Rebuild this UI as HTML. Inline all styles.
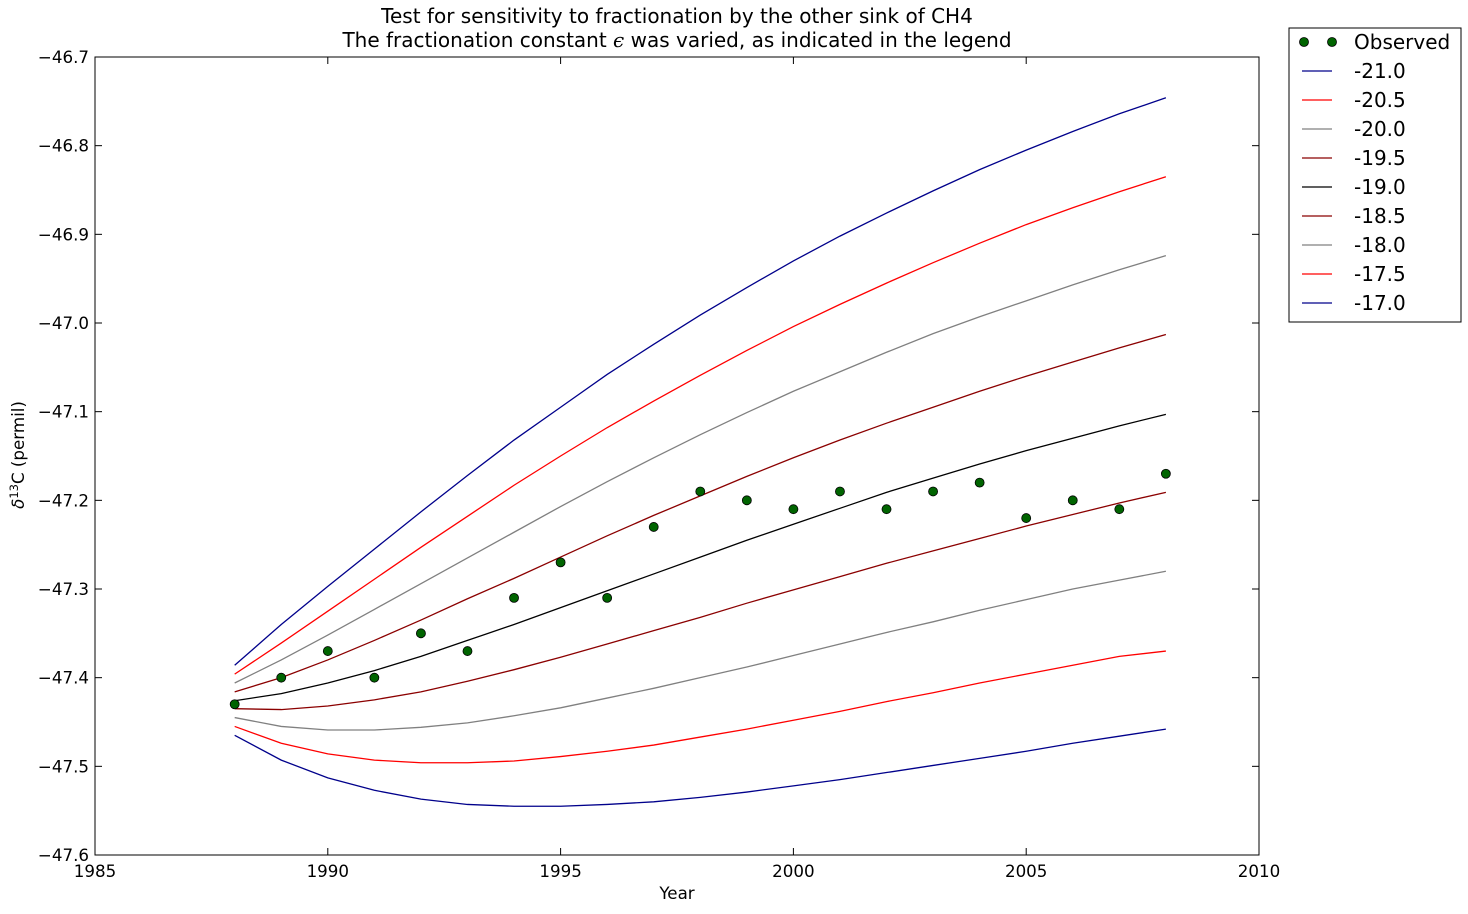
<!DOCTYPE html>
<html><head><meta charset="utf-8"><style>
body{margin:0;background:#fff;}
svg{display:block;font-family:"DejaVu Sans","Liberation Sans",sans-serif;}
</style></head><body>
<svg id="chart" width="1468" height="914">
<g id="plot"></g>
</svg>
<script>
const years=[1988,1989,1990,1991,1992,1993,1994,1995,1996,1997,1998,1999,2000,2001,2002,2003,2004,2005,2006,2007,2008];
const observed=[-47.43,-47.40,-47.37,-47.40,-47.35,-47.37,-47.31,-47.27,-47.31,-47.23,-47.19,-47.20,-47.21,-47.19,-47.21,-47.19,-47.18,-47.22,-47.20,-47.21,-47.17];
const seriesLabels=["-21.0","-20.5","-20.0","-19.5","-19.0","-18.5","-18.0","-17.5","-17.0"];
const seriesColors=["#00008b","#ff0000","#808080","#8b0000","#000000","#8b0000","#808080","#ff0000","#00008b"];
const s210=[-47.386,-47.34,-47.297,-47.255,-47.213,-47.172,-47.132,-47.095,-47.058,-47.024,-46.991,-46.96,-46.93,-46.902,-46.876,-46.851,-46.827,-46.805,-46.784,-46.764,-46.746];
const s205=[-47.396,-47.361,-47.325,-47.289,-47.253,-47.218,-47.183,-47.150,-47.118,-47.088,-47.059,-47.031,-47.004,-46.979,-46.955,-46.932,-46.91,-46.889,-46.87,-46.852,-46.835];
const s200=[-47.406,-47.38,-47.352,-47.323,-47.294,-47.265,-47.236,-47.207,-47.179,-47.152,-47.126,-47.101,-47.077,-47.055,-47.033,-47.012,-46.993,-46.975,-46.957,-46.94,-46.924];
const s195=[-47.416,-47.40,-47.38,-47.358,-47.335,-47.311,-47.288,-47.264,-47.24,-47.217,-47.195,-47.173,-47.152,-47.132,-47.113,-47.095,-47.077,-47.06,-47.044,-47.028,-47.013];
const s190=[-47.426,-47.418,-47.406,-47.392,-47.376,-47.358,-47.34,-47.321,-47.302,-47.283,-47.264,-47.245,-47.227,-47.209,-47.191,-47.175,-47.159,-47.144,-47.13,-47.116,-47.103];
const s185=[-47.435,-47.436,-47.432,-47.425,-47.416,-47.404,-47.391,-47.377,-47.362,-47.347,-47.332,-47.316,-47.301,-47.286,-47.271,-47.257,-47.243,-47.229,-47.216,-47.203,-47.191];
const s180=[-47.445,-47.455,-47.459,-47.459,-47.456,-47.451,-47.443,-47.434,-47.423,-47.412,-47.4,-47.388,-47.375,-47.362,-47.349,-47.337,-47.324,-47.312,-47.3,-47.29,-47.28];
const s175=[-47.455,-47.474,-47.486,-47.493,-47.496,-47.496,-47.494,-47.489,-47.483,-47.476,-47.467,-47.458,-47.448,-47.438,-47.427,-47.417,-47.406,-47.396,-47.386,-47.376,-47.37];
const s170=[-47.465,-47.493,-47.513,-47.527,-47.537,-47.543,-47.545,-47.545,-47.543,-47.540,-47.535,-47.529,-47.522,-47.515,-47.507,-47.499,-47.491,-47.483,-47.474,-47.466,-47.458];
const xTicks=[1985,1990,1995,2000,2005,2010];
const yTicks=[-46.7,-46.8,-46.9,-47.0,-47.1,-47.2,-47.3,-47.4,-47.5,-47.6];

const series=[s210,s205,s200,s195,s190,s185,s180,s175,s170];
const L=95,R=1259,T=57,B=855;
const xMin=1985,xMax=2010,yMin=-47.6,yMax=-46.7;
const X=v=>L+(v-xMin)/(xMax-xMin)*(R-L);
const Y=v=>B-(v-yMin)/(yMax-yMin)*(B-T);
const NS="http://www.w3.org/2000/svg";
const svg=document.getElementById('chart');
function mk(tag,attrs,parent){const e=document.createElementNS(NS,tag);for(const k in attrs)e.setAttribute(k,attrs[k]);(parent||svg).appendChild(e);return e;}

series.forEach((s,i)=>{
  const p=mk('polyline',{points:s.map((v,j)=>X(years[j])+','+Y(v)).join(' '),fill:'none',stroke:seriesColors[i],'stroke-width':1.3});
  
  
});
observed.forEach((v,j)=>{
  const c=mk('circle',{cx:X(years[j]),cy:Y(v),r:4.5,fill:'#006400',stroke:'#000','stroke-width':0.8});
  
  
});
const frame=mk('rect',{x:L,y:T,width:R-L,height:B-T,fill:'none',stroke:'#000','stroke-width':1});


xTicks.forEach(t=>{
  mk('line',{x1:X(t),x2:X(t),y1:B,y2:B-7,stroke:'#000'});
  mk('line',{x1:X(t),x2:X(t),y1:T,y2:T+7,stroke:'#000'});
  const tx=mk('text',{x:X(t),y:B+22,'text-anchor':'middle','font-size':16.7});
  tx.textContent=t;
  
  
});
yTicks.forEach(t=>{
  mk('line',{x1:L,x2:L+7,y1:Y(t),y2:Y(t),stroke:'#000'});
  mk('line',{x1:R,x2:R-7,y1:Y(t),y2:Y(t),stroke:'#000'});
  const tx=mk('text',{x:L-6,y:Y(t)+6,'text-anchor':'end','font-size':16.7});
  tx.textContent=t.toFixed(1).replace('-','\u2212');
  
  
});
// legend
const lg=mk('rect',{x:1289,y:28,width:172,height:294,fill:'#fff',stroke:'#000'});


mk('circle',{cx:1304,cy:42,r:4.5,fill:'#006400',stroke:'#000','stroke-width':0.8});
mk('circle',{cx:1332,cy:42,r:4.5,fill:'#006400',stroke:'#000','stroke-width':0.8});
let t0=mk('text',{x:1354,y:49,'font-size':20});t0.textContent='Observed';


seriesLabels.forEach((lab,i)=>{
  const y=71+i*29;
  mk('line',{x1:1302,x2:1332,y1:y,y2:y,stroke:seriesColors[i],'stroke-width':1.3});
  const tx=mk('text',{x:1354,y:y+7,'font-size':20});tx.textContent=lab;
  
  
});
</script>
<svg style="position:absolute;left:0;top:0" width="1468" height="914">
<text x="677" y="23" text-anchor="middle" font-size="20">Test for sensitivity to fractionation by the other sink of CH4</text>
<text x="677" y="47" text-anchor="middle" font-size="20">The fractionation constant <tspan font-style="italic" font-family="DejaVu Serif,serif">ϵ</tspan> was varied, as indicated in the legend</text>
<text x="677" y="899" text-anchor="middle" font-size="16.7">Year</text>
<text transform="translate(24,455) rotate(-90)" text-anchor="middle" font-size="16.7"><tspan font-style="italic">δ</tspan><tspan font-size="11.5" dy="-6">13</tspan><tspan dy="6">C (permil)</tspan></text>
</svg>
</body></html>
